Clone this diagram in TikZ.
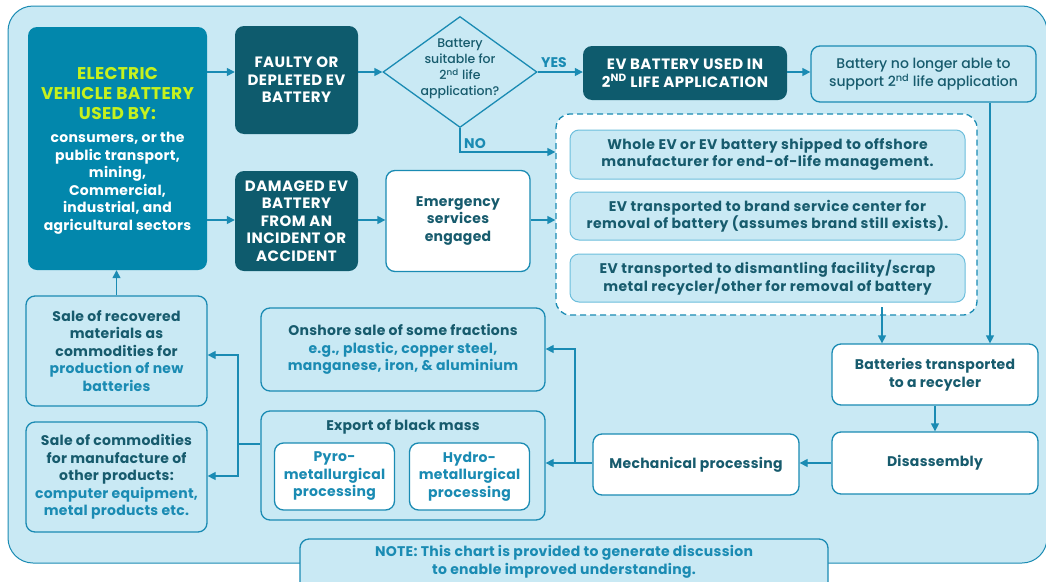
\documentclass[tikz,border=0pt]{standalone}
\usepackage{fontspec}
\setmainfont{Poppins}[UprightFont={Poppins Medium},BoldFont={Poppins Bold}]
\usetikzlibrary{arrows.meta,shapes.geometric,calc}
\definecolor{bg}{HTML}{C9E9F4}
\definecolor{bl}{HTML}{1A8BB3}
\definecolor{evb}{HTML}{0287AC}
\definecolor{dk}{HTML}{0E5B6D}
\definecolor{tx}{HTML}{175B6D}
\definecolor{gr}{HTML}{C6F11E}
\definecolor{lb}{HTML}{6CBEDC}
\tikzset{
 base/.style={rounded corners=9pt, align=center, inner sep=0pt, font=\bfseries\fontsize{14}{17.5}\selectfont\addfontfeature{LetterSpace=2}},
 capsfont/.style={font=\bfseries\fontsize{15}{17.5}\selectfont\addfontfeature{LetterSpace=3}},
 darkbox/.style={base, fill=dk, text=white, capsfont},
 whitebox/.style={base, fill=white, draw=bl, line width=1.3pt, text=tx},
 lightbox/.style={base, fill=bg, draw=bl, line width=1.3pt, text=tx},
 innerbox/.style={base, fill=bg, draw=lb, line width=1pt, text=tx, font=\bfseries\fontsize{14}{17}\selectfont\addfontfeature{LetterSpace=3.5}},
 arr/.style={draw=bl, line width=1.3pt, -{Triangle[length=8pt,width=8pt]}},
 ln/.style={draw=bl, line width=1.3pt},
 lbl/.style={text=bl, font=\bfseries\fontsize{14}{16}\selectfont, inner sep=0pt},
 txt/.style={align=center, inner sep=0pt, text=tx, font=\bfseries\fontsize{14}{17.5}\selectfont\addfontfeature{LetterSpace=2}}
}
\begin{document}
\begin{tikzpicture}[x=1pt,y=-1pt]
\useasboundingbox (0,0) rectangle (1046,581);
\path[fill=bg, draw=bl, line width=1pt, rounded corners=25pt] (8,6) rectangle (1047,563);

% main EV box
\node[base, fill=evb, minimum width=179, minimum height=243] (ev) at (117.5,148.5) {};
\node[txt, text=gr, font=\bfseries\fontsize{17}{20}\selectfont\addfontfeature{LetterSpace=2}] (evt1) at (117.5,94) {ELECTRIC\\VEHICLE BATTERY\\USED BY:};
\node[txt, text=white] (evt2) at (117.5,183) {consumers, or the\\public transport,\\mining,\\Commercial,\\industrial, and\\agricultural sectors};

\node[darkbox, minimum width=123, minimum height=108] (faulty) at (296.5,80) {FAULTY OR\\DEPLETED EV\\BATTERY};
\node[darkbox, minimum width=123, minimum height=100] (damaged) at (296.5,221) {DAMAGED EV\\BATTERY\\FROM AN\\INCIDENT OR\\ACCIDENT};

\node[diamond, draw=bl, fill=bg, line width=1.3pt, minimum width=154, minimum height=111, inner sep=0pt] (dia) at (460,72) {};
\node[txt, font=\fontsize{12.5}{16}\selectfont] (diat) at (460,69) {Battery\\suitable for\\2\textsuperscript{nd} life\\application?};

\node[darkbox, minimum width=204, minimum height=54] (sec) at (685,73) {EV BATTERY USED IN\\2\textsuperscript{ND} LIFE APPLICATION};
\node[lightbox, font=\fontsize{14}{18}\selectfont, minimum width=225, minimum height=56] (nolonger) at (923.5,74) {Battery no longer able to\\support 2\textsuperscript{nd} life application};

\node[lbl] (yes) at (554,63) {YES};
\node[lbl] (no) at (475,144) {NO};

\node[whitebox, minimum width=144, minimum height=101] (emerg) at (458,221) {Emergency\\services\\engaged};

\node[base, fill=white, draw=bl, line width=1.3pt, dash pattern=on 6pt off 4pt, rounded corners=14pt, minimum width=421, minimum height=201] (dashed) at (766.5,214.5) {};
\node[innerbox, minimum width=395, minimum height=49] (in1) at (767.5,154.5) {Whole EV or EV battery shipped to offshore\\manufacturer for end-of-life management.};
\node[innerbox, minimum width=395, minimum height=48] (in2) at (767.5,216) {EV transported to brand service center for\\removal of battery (assumes brand still exists).};
\node[innerbox, minimum width=395, minimum height=48] (in3) at (767.5,278) {EV transported to dismantling facility/scrap\\metal recycler/other for removal of battery};

\node[whitebox, minimum width=206, minimum height=61] (recyc) at (935,374.5) {Batteries transported\\to a recycler};
\node[whitebox, minimum width=206, minimum height=62] (disasm) at (935,463) {Disassembly};
\node[whitebox, minimum width=206, minimum height=61] (mech) at (696,464.5) {Mechanical processing};

\node[lightbox, minimum width=284, minimum height=83] (onshore) at (403,349.5) {Onshore sale of some fractions\\{\color{bl}e.g., plastic, copper steel,}\\{\color{bl}manganese, iron, \& aluminium}};
\node[lightbox, minimum width=284, minimum height=109] (export) at (403,465.5) {};
\node[txt] (exportt) at (403,427) {Export of black mass};
\node[whitebox, text=bl, minimum width=120, minimum height=67] (pyro) at (334.5,476.5) {Pyro-\\metallurgical\\processing};
\node[whitebox, text=bl, minimum width=120, minimum height=67] (hydro) at (469.5,476.5) {Hydro-\\metallurgical\\processing};

\node[lightbox, minimum width=181, minimum height=110] (salerec) at (116.5,351) {Sale of recovered\\materials as\\commodities for\\{\color{bl}production of new}\\{\color{bl}batteries}};
\node[lightbox, minimum width=181, minimum height=110] (salecom) at (116.5,477) {Sale of commodities\\for manufacture of\\other products:\\{\color{bl}computer equipment,}\\{\color{bl}metal products etc.}};

\node[lightbox, minimum width=528, minimum height=56] (note) at (564,567) {};
\node[txt, text=bl] (notet) at (564,562) {NOTE: This chart is provided to generate discussion\\to enable improved understanding.};

% connectors
\draw[arr] (ev.east|-dia.west) -- (faulty.west|-dia.west);
\draw[arr] (faulty.east|-dia.west) -- (dia.west);
\draw[arr] (dia.east) -- (dia.east-|sec.west);
\draw[arr] (sec.east|-dia.east) -- (nolonger.west|-dia.east);
\draw[arr] (dia.south) |- (dashed.west|-0,152);
\draw[arr] (ev.east|-0,220) -- (damaged.west|-0,220);
\draw[arr] (damaged.east|-0,220) -- (emerg.west|-0,220);
\draw[arr] (emerg.east|-0,220) -- (dashed.west|-0,220);
\coordinate (c1) at (990,101);
\draw[arr] (c1|-nolonger.south) -- (c1|-recyc.north);
\coordinate (c2) at (882,307);
\draw[arr] (c2) -- (c2|-recyc.north);
\draw[arr] (recyc.south) -- (disasm.north);
\coordinate (j0) at (700,463);
\draw[arr] (disasm.west|-j0) -- (mech.east|-j0);
\coordinate (j1) at (575,463);
\draw[arr] (mech.west|-j1) -- (export.east|-j1);
\draw[arr] (j1) |- (onshore.east|-0,349);
\coordinate (j2) at (238,444);
\draw[ln] (export.west|-j2) -- (j2);
\draw[arr] (j2) |- (salerec.east|-0,355);
\draw[arr] (j2) |- (salecom.east|-0,476);
\draw[arr] (salerec.north) -- (salerec.north|-ev.south);
\end{tikzpicture}
\end{document}
